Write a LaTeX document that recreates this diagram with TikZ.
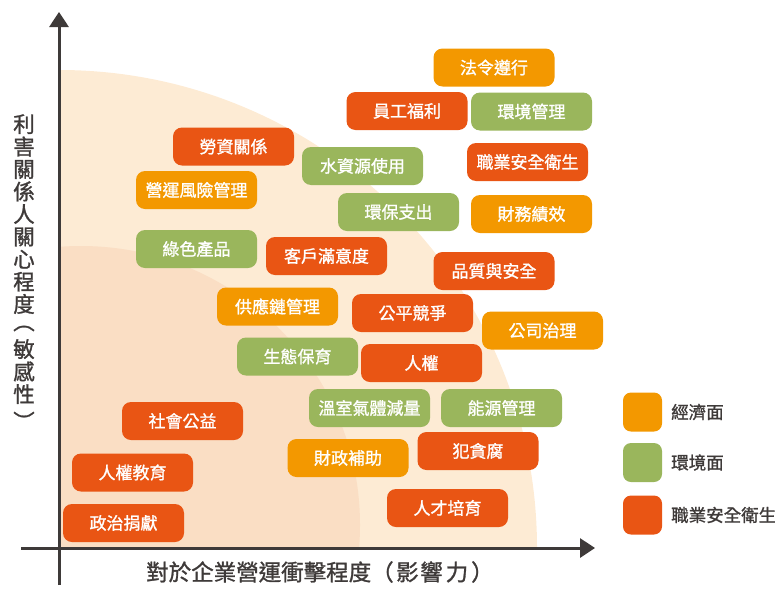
\documentclass[tikz,border=0pt]{standalone}
\usepackage{fontspec}
\newfontfamily\cjk{Noto Sans CJK TC}
\newfontfamily\cjkb{Noto Sans CJK TC}[FakeBold=1.2]
\usetikzlibrary{arrows.meta}
\definecolor{cOr}{HTML}{F39800}
\definecolor{cGr}{HTML}{9AB65C}
\definecolor{cRd}{HTML}{E95514}
\definecolor{bgOut}{HTML}{FDEBD4}
\definecolor{bgIn}{HTML}{FADEC4}
\definecolor{axisC}{HTML}{3E3A39}
\newcommand{\vparen}[2]{\raisebox{#2}[15pt][3pt]{\rotatebox[origin=c]{-90}{#1}}}
\tikzset{
  box/.style={rounded corners=9pt, minimum width=121pt, minimum height=38pt, inner sep=0pt,
    text=white, font=\cjkb\fontsize{17}{17}\selectfont},
  ob/.style={box, fill=cOr},
  gb/.style={box, fill=cGr},
  rb/.style={box, fill=cRd},
  legbox/.style={rounded corners=8pt, minimum width=39pt, minimum height=39pt, inner sep=0pt},
  legtext/.style={anchor=west, inner sep=0pt, text=axisC, font=\cjkb\fontsize{17.5}{17.5}\selectfont},
  axisline/.style={line width=3pt, draw=axisC, -{Triangle[length=15pt,width=19pt]}},
  axislabel/.style={text=axisC, inner sep=0pt}
}
\begin{document}
\begin{tikzpicture}[x=1pt,y=-1pt]
\useasboundingbox (0,0) rectangle (775,589);
% background zones
\begin{scope}
  \clip (59,0) rectangle (775,548);
  \fill[bgOut] (59,548) circle[radius=478pt];
  \fill[bgIn] (81,525) circle[radius=279pt];
\end{scope}
% axes
\coordinate (yStart) at (59,585);
\coordinate (yEnd) at (59,12);
\coordinate (xStart) at (21,548);
\coordinate (xEnd) at (595,548);
\draw[axisline] (yStart) -- (yEnd);
\draw[axisline] (xStart) -- (xEnd);
% axis labels
\node[axislabel, align=center, font=\cjkb\fontsize{21.5}{22.5}\selectfont] (ylab) at (24,271) {利\\害\\關\\係\\人\\關\\心\\程\\度\\\vparen{（}{5pt}\\敏\\感\\性\\\vparen{）}{-5pt}};
\node[axislabel, anchor=west, font=\cjkb\fontsize{22.5}{22.5}\selectfont] (xlab) at (146,572) {對於企業營運衝擊程度（\kern2.5pt 影\kern1.5pt 響\kern3pt 力\kern3pt ）};
% topic boxes
\node[ob] (n1) at (494,67.5) {法令遵行};
\node[rb] (n2) at (407,111) {員工福利};
\node[gb] (n3) at (531.5,111.5) {環境管理};
\node[rb] (n4) at (527.5,162) {職業安全衛生};
\node[ob] (n5) at (531.5,214) {財務績效};
\node[rb] (n6) at (494,271) {品質與安全};
\node[rb] (n7) at (233.5,146.5) {勞資關係};
\node[gb] (n8) at (362.5,166) {水資源使用};
\node[ob] (n9) at (196.5,190) {營運風險管理};
\node[gb] (n10) at (398.5,212) {環保支出};
\node[gb] (n11) at (196.5,249) {綠色產品};
\node[rb] (n12) at (326.5,256) {客戶滿意度};
\node[ob] (n13) at (277.5,306.5) {供應鏈管理};
\node[rb] (n14) at (412.5,313) {公平競爭};
\node[gb] (n15) at (297.5,356.5) {生態保育};
\node[rb] (n16) at (421.5,363) {人權};
\node[ob] (n17) at (542.5,330.5) {公司治理};
\node[gb] (n18) at (369.5,408) {溫室氣體減量};
\node[gb] (n19) at (501.5,408) {能源管理};
\node[rb] (n20) at (182.5,421) {社會公益};
\node[ob] (n21) at (348,458) {財政補助};
\node[rb] (n22) at (478,451) {犯貪腐};
\node[rb] (n23) at (132.5,472.5) {人權教育};
\node[rb] (n24) at (447.5,508) {人才培育};
\node[rb] (n25) at (123.5,523) {政治捐獻};
% legend
\node[legbox, fill=cOr] (l1) at (642.5,412) {};
\node[legbox, fill=cGr] (l2) at (642.5,462.5) {};
\node[legbox, fill=cRd] (l3) at (642.5,515) {};
\node[legtext] (t1) at (671,412) {經濟面};
\node[legtext] (t2) at (671,462.5) {環境面};
\node[legtext] (t3) at (671,515) {職業安全衛生};
\end{tikzpicture}
\end{document}
